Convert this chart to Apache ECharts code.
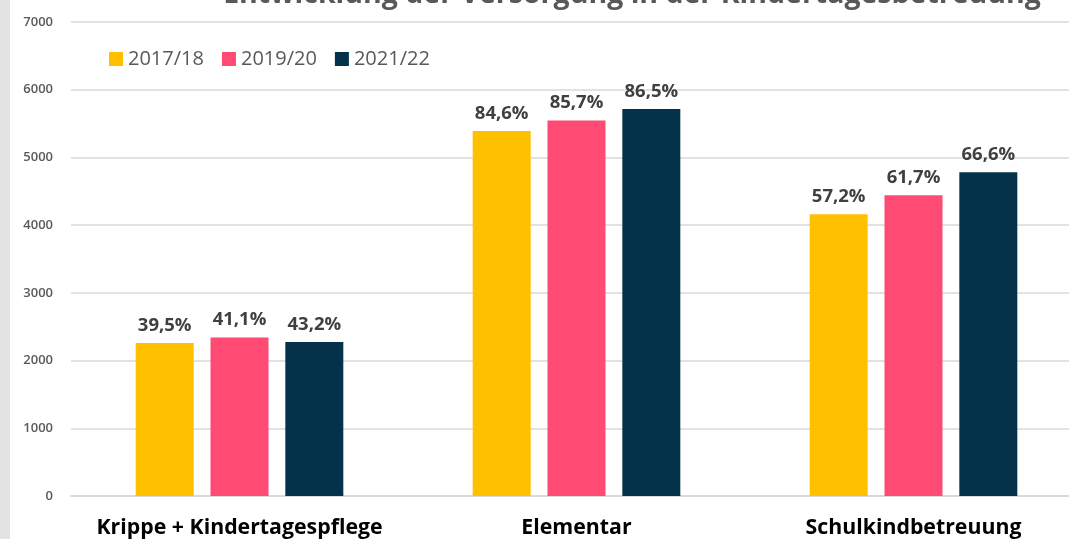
<!DOCTYPE html>
<html><head><meta charset="utf-8">
<script src="https://cdn.jsdelivr.net/npm/echarts@6/dist/echarts.min.js"></script>
<style>html,body{margin:0;padding:0;background:#fff}#c{width:1069px;height:539px}</style>
</head><body><div id="c"></div>
<script>
const categories = ['Krippe + Kindertagespflege', 'Elementar', 'Schulkindbetreuung'];
const seriesNames = ['2017/18', '2019/20', '2021/22'];
const values2017 = [2260, 5390, 4160];
const values2019 = [2340, 5545, 4440];
const values2021 = [2275, 5715, 4780];
const pct2017 = ['39,5%', '84,6%', '57,2%'];
const pct2019 = ['41,1%', '85,7%', '61,7%'];
const pct2021 = ['43,2%', '86,5%', '66,6%'];
const yTicks = [0, 1000, 2000, 3000, 4000, 5000, 6000, 7000];
const colors = ['#FFC000', '#FF4B73', '#03324A'];

const chart = echarts.init(document.getElementById('c'), null, {renderer: 'canvas'});
const font = 'Open Sans';
function mk(name, data, pcts, color) {
  return {
    name: name, type: 'bar', data: data,
    barWidth: 58, barGap: '29%', barCategoryGap: '38%',
    itemStyle: {color: color},
    label: {show: true, position: 'top', distance: 8, color: '#404040', fontFamily: font,
      fontWeight: 'bold', fontSize: 18.5, formatter: p => pcts[p.dataIndex]},
    emphasis: {disabled: true}
  };
}
chart.setOption({
  animation: false,
  textStyle: {fontFamily: font},
  title: {text: 'Entwicklung der Versorgung in der Kindertagesbetreuung', left: 627, textAlign: 'center',
    top: -25, textStyle: {fontFamily: font, fontSize: 28.5, fontWeight: 'bold', color: '#595959'}},
  graphic: [{type: 'rect', left: 0, top: 0, shape: {width: 10, height: 539}, style: {fill: '#e3e3e3'}}],
  legend: {left: 104, top: 44, itemWidth: 14, itemHeight: 14, itemGap: 18, icon: 'rect',
    textStyle: {fontFamily: font, fontSize: 20, color: '#595959'}, data: seriesNames},
  grid: {left: 71, width: 1011, top: 22, bottom: 43, containLabel: false, outerBoundsMode: 'none'},
  xAxis: {type: 'category', data: categories,
    axisLine: {lineStyle: {color: '#d9d9d9', width: 2}}, axisTick: {show: false},
    axisLabel: {margin: 21, interval: 0, hideOverlap: false, color: '#000', fontFamily: font, fontWeight: 'bold', fontSize: 21.3}},
  yAxis: {type: 'value', min: yTicks[0], max: yTicks[yTicks.length - 1], interval: 1000,
    axisLine: {show: false}, axisTick: {show: false},
    splitLine: {lineStyle: {color: '#d9d9d9', width: 1.5}},
    axisLabel: {margin: 18, color: '#595959', fontFamily: font, fontWeight: 600, fontSize: 13,
      formatter: v => String(v)}},
  series: [mk(seriesNames[0], values2017, pct2017, colors[0]),
           mk(seriesNames[1], values2019, pct2019, colors[1]),
           mk(seriesNames[2], values2021, pct2021, colors[2])]
});
</script></body></html>
